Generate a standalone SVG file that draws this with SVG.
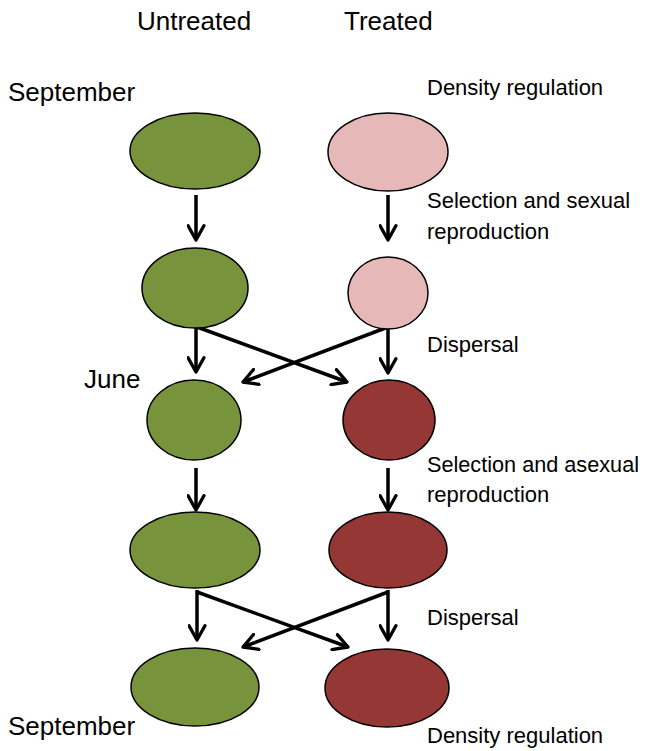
<svg xmlns="http://www.w3.org/2000/svg" width="645" height="751" viewBox="0 0 645 751">
<style>
.t{font-family:"Liberation Sans",Arial,sans-serif;fill:#000}
.h{font-size:26px}
.r{font-size:22px}
.g{fill:#77933C;stroke:#000;stroke-width:1.5}
.p{fill:#E6B9B8;stroke:#000;stroke-width:1.5}
.d{fill:#953735;stroke:#000;stroke-width:1.5}
.c{stroke:#000;stroke-width:3.5;fill:none;marker-end:url(#ah)}
</style>
<defs>
<marker id="ah" viewBox="0 0 12 12" refX="10" refY="6" markerWidth="19" markerHeight="19" markerUnits="userSpaceOnUse" orient="auto">
<path d="M1,1 L10,6 L1,11" fill="none" stroke="#000" stroke-width="2.1" stroke-linecap="round" stroke-linejoin="round"/>
</marker>
</defs>
<rect width="645" height="751" fill="#fff"/>
<g id="labels">
<text class="t h" x="137" y="30">Untreated</text>
<text class="t h" x="344" y="30">Treated</text>
<text class="t h" x="8" y="101">September</text>
<text class="t h" x="84" y="388">June</text>
<text class="t h" x="8" y="735">September</text>
<text class="t r" x="427" y="95">Density regulation</text>
<text class="t r" x="427" y="208">Selection and sexual</text>
<text class="t r" x="427" y="239">reproduction</text>
<text class="t r" x="427" y="352">Dispersal</text>
<text class="t r" x="427" y="472" textLength="212" lengthAdjust="spacingAndGlyphs">Selection and asexual</text>
<text class="t r" x="427" y="502">reproduction</text>
<text class="t r" x="427" y="625">Dispersal</text>
<text class="t r" x="427" y="743">Density regulation</text>
</g>
<g id="connectors">
<line class="c" x1="196" y1="195" x2="196" y2="240"/>
<line class="c" x1="388" y1="195" x2="388" y2="240"/>
<line class="c" x1="196" y1="328" x2="196" y2="372"/>
<line class="c" x1="388" y1="329" x2="388" y2="373"/>
<line class="c" x1="197" y1="327" x2="347" y2="382"/>
<line class="c" x1="388" y1="327" x2="243" y2="382"/>
<line class="c" x1="196" y1="468" x2="196" y2="510"/>
<line class="c" x1="388" y1="468" x2="388" y2="510"/>
<line class="c" x1="197" y1="590" x2="197" y2="640"/>
<line class="c" x1="388" y1="590" x2="388" y2="640"/>
<line class="c" x1="197" y1="592" x2="348" y2="647"/>
<line class="c" x1="388" y1="592" x2="243" y2="647"/>
</g>
<g id="u1"><ellipse class="g" cx="195" cy="151" rx="65" ry="38"/></g>
<g id="t1"><ellipse class="p" cx="388" cy="152" rx="60" ry="39"/></g>
<g id="u2"><ellipse class="g" cx="195" cy="288" rx="53" ry="40"/></g>
<g id="t2"><ellipse class="p" cx="388" cy="293" rx="40" ry="36"/></g>
<g id="u3"><ellipse class="g" cx="194" cy="420" rx="47" ry="40"/></g>
<g id="t3"><ellipse class="d" cx="389" cy="420" rx="46" ry="40"/></g>
<g id="u4"><ellipse class="g" cx="195" cy="550" rx="65" ry="38"/></g>
<g id="t4"><ellipse class="d" cx="388" cy="550" rx="59" ry="38"/></g>
<g id="u5"><ellipse class="g" cx="195" cy="687" rx="64" ry="39"/></g>
<g id="t5"><ellipse class="d" cx="387" cy="688" rx="62" ry="39"/></g>
</svg>
